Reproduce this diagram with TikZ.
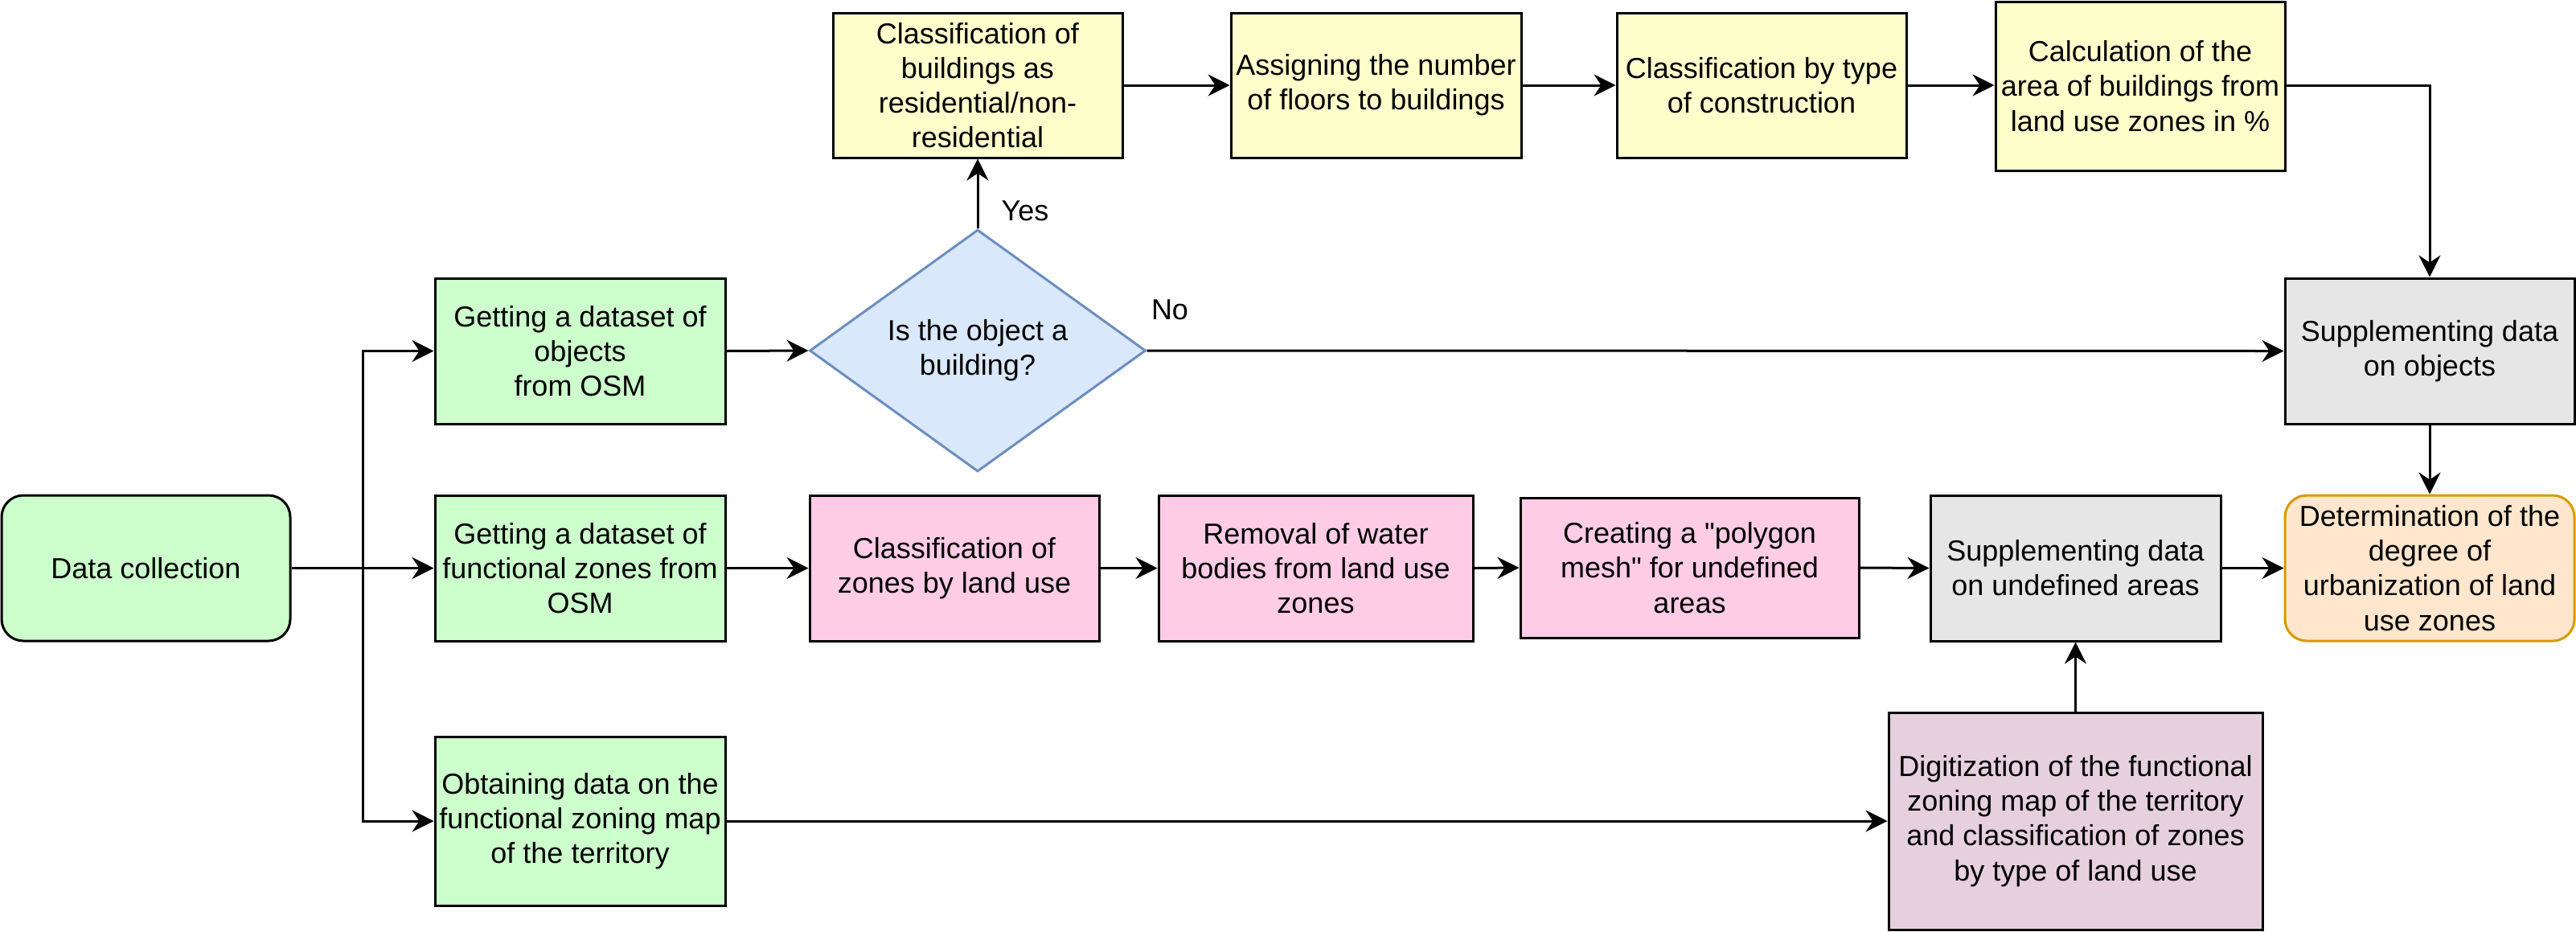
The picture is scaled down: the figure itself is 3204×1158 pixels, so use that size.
\documentclass[tikz,border=0pt]{standalone}
\usepackage{fontspec}
\setmainfont{Liberation Sans}[Ligatures=TeXOff]
\usetikzlibrary{arrows.meta,shapes.geometric}
\definecolor{cgreen}{HTML}{CCFFCC}
\definecolor{cyellow}{HTML}{FFFFCC}
\definecolor{cpink}{HTML}{FFCCE6}
\definecolor{cblue}{HTML}{DAE8FC}
\definecolor{cbluedraw}{HTML}{6C8EBF}
\definecolor{cgray}{HTML}{E6E6E6}
\definecolor{corange}{HTML}{FFE6CC}
\definecolor{corangedraw}{HTML}{D79B00}
\definecolor{cmauve}{HTML}{E6D0DE}
\tikzset{
  box/.style={draw=black, line width=0.75pt, rectangle, inner sep=0pt, align=center,
    font=\fontsize{9pt}{10.8pt}\selectfont, minimum width=90pt, minimum height=45.25pt},
  rbox/.style={box, rounded corners=6.75pt},
  decision/.style={draw=cbluedraw, fill=cblue, line width=0.75pt, diamond, inner sep=0pt,
    align=center, font=\fontsize{9pt}{10.8pt}\selectfont, minimum width=104.5pt, minimum height=75pt},
  conn/.style={draw=black, line width=0.75pt, -{Stealth[length=6.75pt,width=6.75pt,inset=2.25pt]}},
  lbl/.style={font=\fontsize{9pt}{10.8pt}\selectfont, inner sep=0pt}
}
\begin{document}
\begin{tikzpicture}[x=0.25pt,y=-0.25pt]
\useasboundingbox (0,0) rectangle (3204,1158);
% nodes
\node[rbox, fill=cgreen, minimum width=89.75pt] (dc) at (181.5,706.5) {Data collection};
\node[box, fill=cgreen, minimum width=90.25pt] (g1) at (721.5,436.5) {Getting a dataset of\\objects\\from OSM};
\node[box, fill=cgreen, minimum width=90.25pt] (g2) at (721.5,706.5) {Getting a dataset of\\functional zones from\\OSM};
\node[box, fill=cgreen, minimum width=90.25pt, minimum height=52.5pt] (g3) at (721.5,1021) {Obtaining data on the\\functional zoning map\\of the territory};
\node[decision] (dia) at (1216,436) {Is the object a\\building?};
\node[box, fill=cyellow, minimum height=45pt] (y1) at (1216,106) {Classification of\\buildings as\\residential/non-\\residential};
\node[box, fill=cyellow, minimum width=90.25pt, minimum height=45pt] (y2) at (1711.5,106) {Assigning the number\\of floors to buildings};
\node[box, fill=cyellow, minimum height=45pt] (y3) at (2191,106) {Classification by type\\of construction};
\node[box, fill=cyellow, minimum height=52.5pt] (y4) at (2662,107) {Calculation of the\\area of buildings from\\land use zones in \%};
\node[box, fill=cgray] (s1) at (3022,436.5) {Supplementing data\\on objects};
\node[box, fill=cpink] (p1) at (1187,706.5) {Classification of\\zones by land use};
\node[box, fill=cpink, minimum width=97.75pt] (p2) at (1636.5,706.5) {Removal of water\\bodies from land use\\zones};
\node[box, fill=cpink, minimum width=105.25pt, minimum height=43.5pt] (p3) at (2101.5,706) {Creating a "polygon\\mesh" for undefined\\areas};
\node[box, fill=cgray, minimum width=90.25pt] (s2) at (2581.5,706.5) {Supplementing data\\on undefined areas};
\node[rbox, fill=corange, draw=corangedraw] (o) at (3022,706.5) {Determination of the\\degree of\\urbanization of land\\use zones};
\node[box, fill=cmauve, minimum width=116.25pt, minimum height=67.5pt] (m) at (2581.5,1021) {Digitization of the functional\\zoning map of the territory\\and classification of zones\\by type of land use};
\coordinate (split) at (451,706.5);
% connectors
\draw[conn] (dc.east) -- (g2.west);
\draw[conn] (split) |- (g1.west);
\draw[conn] (split) |- (g3.west);
\draw[conn] (g1.east) -- (dia.west);
\draw[conn] (dia.north) -- (y1.south);
\draw[conn] (dia.east) -- (s1.west);
\draw[conn] (y1.east) -- (y2.west);
\draw[conn] (y2.east) -- (y3.west);
\draw[conn] (y3.east) -- (y3.east -| y4.west);
\draw[conn] (y3.east -| y4.east) -| (s1.north);
\draw[conn] (s1.south) -- (o.north);
\draw[conn] (g2.east) -- (p1.west);
\draw[conn] (p1.east) -- (p2.west);
\draw[conn] (p2.east) -- (p3.west);
\draw[conn] (p3.east) -- (s2.west);
\draw[conn] (s2.east) -- (o.west);
\draw[conn] (g3.east) -- (m.west);
\draw[conn] (m.north) -- (s2.south);
% labels
\node[lbl] (yes) at (1275,262) {Yes};
\node[lbl] (no) at (1455,385) {No};
\end{tikzpicture}
\end{document}
